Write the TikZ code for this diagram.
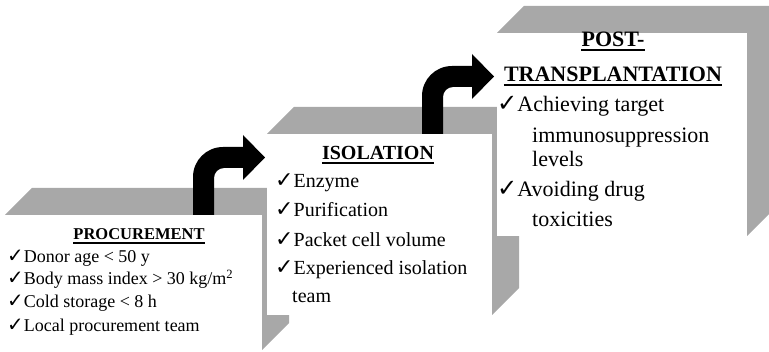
\documentclass[tikz,border=0pt]{standalone}
\usepackage{fontspec}
\setmainfont{Liberation Serif}
\newfontfamily\checkfont{DejaVu Sans}
\definecolor{sidegray}{gray}{0.66}
\newcommand{\tickmark}{\scalebox{1.1}{\checkfont ✓}}

\begin{document}
\begin{tikzpicture}[x=1pt, y=-1pt]

	\tikzstyle{shade}=[fill=sidegray]
	\tikzstyle{face}=[fill=white]
	\tikzstyle{uline}=[line width=1.3pt]
	\tikzstyle{head1}=[anchor=base, inner sep=0pt, font=\fontsize{16.5}{19}\selectfont\bfseries]
	\tikzstyle{item1}=[anchor=base west, inner sep=0pt, font=\fontsize{18}{21}\selectfont]
	\tikzstyle{head2}=[anchor=base, inner sep=0pt, font=\fontsize{20}{24}\selectfont\bfseries]
	\tikzstyle{item2}=[anchor=base west, inner sep=0pt, font=\fontsize{20}{24}\selectfont]
	\tikzstyle{head3}=[anchor=base, inner sep=0pt, font=\fontsize{22}{26}\selectfont\bfseries]
	\tikzstyle{item3}=[anchor=base west, inner sep=0pt, font=\fontsize{22}{26}\selectfont]
	\tikzset{bentarrow/.pic={
		\fill[black] (0,0) -- (0,-38) .. controls (0,-54.6) and (13.4,-68) .. (30,-68) -- (50,-68) -- (50,-80)
			-- (72,-57.5) -- (50,-35) -- (50,-47) -- (31,-47) .. controls (25.5,-47) and (21,-42.5) .. (21,-37) -- (21,0) -- cycle;
	}}

	\useasboundingbox (0,0) rectangle (769,352);

	\coordinate (b_1) at (5,215); % PROCUREMENT
	\coordinate (b_2) at (267,134); % ISOLATION
	\coordinate (b_3) at (497,33); % POST-TRANSPLANTATION

	% CAJA 1
	\fill[shade] (b_1) -- ++(27,-27) -- ++(257,0) -- ++(0,135) -- ++(-27,27) -- ++(0,-135) -- cycle;
	\fill[face] (b_1) rectangle ++(257,135);

	% CAJA 2
	\fill[shade] (b_2) -- ++(27,-27) -- ++(225,0) -- ++(0,181) -- ++(-27,27) -- ++(0,-181) -- cycle;
	\fill[face] (b_2) rectangle ++(225,181);

	% CAJA 3
	\fill[shade] (b_3) -- ++(27,-27) -- ++(250,0) -- ++(0,203) -- ++(-27,27) -- ++(0,-203) -- cycle;
	\fill[face] (b_3) rectangle ++(250,203);

	\pic (a_1) at (193,215) {bentarrow};
	\pic (a_2) at (422,134) {bentarrow};

	\node[head1] (t_1) at (139,240) {PROCUREMENT};
	\node[item1] (i_1_1) at (7,263) {\tickmark Donor age < 50 y};
	\node[item1] (i_1_2) at (7,285) {\tickmark Body mass index > 30 kg/m\textsuperscript{2}};
	\node[item1] (i_1_3) at (7,308) {\tickmark Cold storage < 8 h};
	\node[item1] (i_1_4) at (7,332) {\tickmark Local procurement team};

	\node[head2] (t_2) at (378,160) {ISOLATION};
	\node[item2] (i_2_1) at (275,188) {\tickmark Enzyme};
	\node[item2] (i_2_2) at (275,217) {\tickmark Purification};
	\node[item2] (i_2_3) at (275,247) {\tickmark Packet cell volume};
	\node[item2] (i_2_4) at (275,275) {\tickmark Experienced isolation};
	\node[item2] (i_2_5) at (292,303) {team};

	\node[head3] (t_3a) at (613,47) {POST-};
	\node[head3] (t_3b) at (613,82) {TRANSPLANTATION};
	\node[item3] (i_3_1) at (497,112) {\tickmark Achieving target};
	\node[item3] (i_3_2) at (532,143) {immunosuppression};
	\node[item3] (i_3_3) at (532,167) {levels};
	\node[item3] (i_3_4) at (497,197) {\tickmark Avoiding drug};
	\node[item3] (i_3_5) at (532,227) {toxicities};

	\draw[uline] ([yshift=-3pt]t_1.base west) -- ([yshift=-3pt]t_1.base east);
	\draw[uline] ([yshift=-3pt]t_2.base west) -- ([yshift=-3pt]t_2.base east);
	\draw[uline] ([yshift=-3pt]t_3a.base west) -- ([yshift=-3pt]t_3a.base east);
	\draw[uline] ([yshift=-3pt]t_3b.base west) -- ([yshift=-3pt]t_3b.base east);
\end{tikzpicture}
\end{document}
